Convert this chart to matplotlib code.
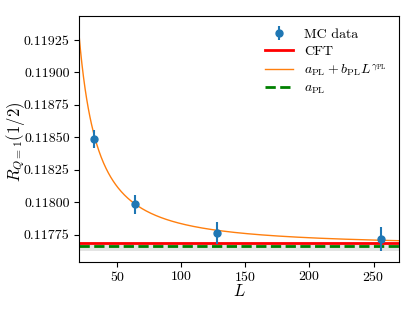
import numpy as np
import matplotlib
matplotlib.use("Agg")
import matplotlib.pyplot as plt

plt.rcParams['font.family'] = 'serif'
plt.rcParams['font.serif'] = ['cmr10']
plt.rcParams['mathtext.fontset'] = 'cm'
plt.rcParams['axes.formatter.use_mathtext'] = True

# data
L_vals = [32, 64, 128, 256]
R_vals = [0.118485, 0.117984, 0.117765, 0.117717]
R_errs = [0.000070, 0.000073, 0.000085, 0.000092]

# fit parameters
a_PL = 0.117660
a_PL_err = 0.000037
b_PL = 0.110
gamma_PL = -1.40
R_CFT = 0.117684

fig = plt.figure(figsize=(4.15, 3.11), dpi=100)
ax = fig.add_axes([0.1896, 0.1566, 0.7724, 0.7929])

xlim = (20, 270)
Lc = np.linspace(xlim[0], xlim[1], 400)

ax.axhspan(a_PL - a_PL_err, a_PL + a_PL_err, color='lightgray', alpha=0.6, lw=0)
h_mc = ax.errorbar(L_vals, R_vals, yerr=R_errs, fmt='o', color='C0', ms=5,
                   elinewidth=1.5, capsize=0, label='MC data', zorder=4)
h_cft = ax.axhline(R_CFT, color='red', lw=2, label='CFT')
h_fit, = ax.plot(Lc, a_PL + b_PL * Lc**gamma_PL, color='C1', lw=1,
                 label=r'$a_{\rm PL}+b_{\rm PL}L^{\gamma_{\rm PL}}$')
h_a = ax.axhline(a_PL, color='green', lw=2, ls='--', label=r'$a_{\rm PL}$')

ax.set_xlim(*xlim)
ax.set_ylim(0.117537, 0.119437)
ax.set_xticks([50, 100, 150, 200, 250])
ax.set_yticks([0.11775, 0.11800, 0.11825, 0.11850, 0.11875, 0.11900, 0.11925])
ax.set_yticklabels(['0.11775', '0.11800', '0.11825', '0.11850', '0.11875', '0.11900', '0.11925'])
ax.tick_params(axis='y', labelsize=10, pad=3)
ax.tick_params(axis='x', labelsize=10, pad=2)
ax.set_xlabel(r'$L$', fontsize=12)
ax.set_ylabel(r'$R_{Q=1}(1/2)$', fontsize=12)
ax.xaxis.set_label_coords(0.5, -0.085)
ax.yaxis.set_label_coords(-0.16, 0.49)

ax.legend(handles=[h_mc, h_cft, h_fit, h_a],
          labels=['MC data', 'CFT', r'$a_{\rm PL}+b_{\rm PL}L^{\gamma_{\rm PL}}$', r'$a_{\rm PL}$'],
          loc='upper right', frameon=False, fontsize=10, labelspacing=0.3)

fig.savefig('out.png', dpi=100)
